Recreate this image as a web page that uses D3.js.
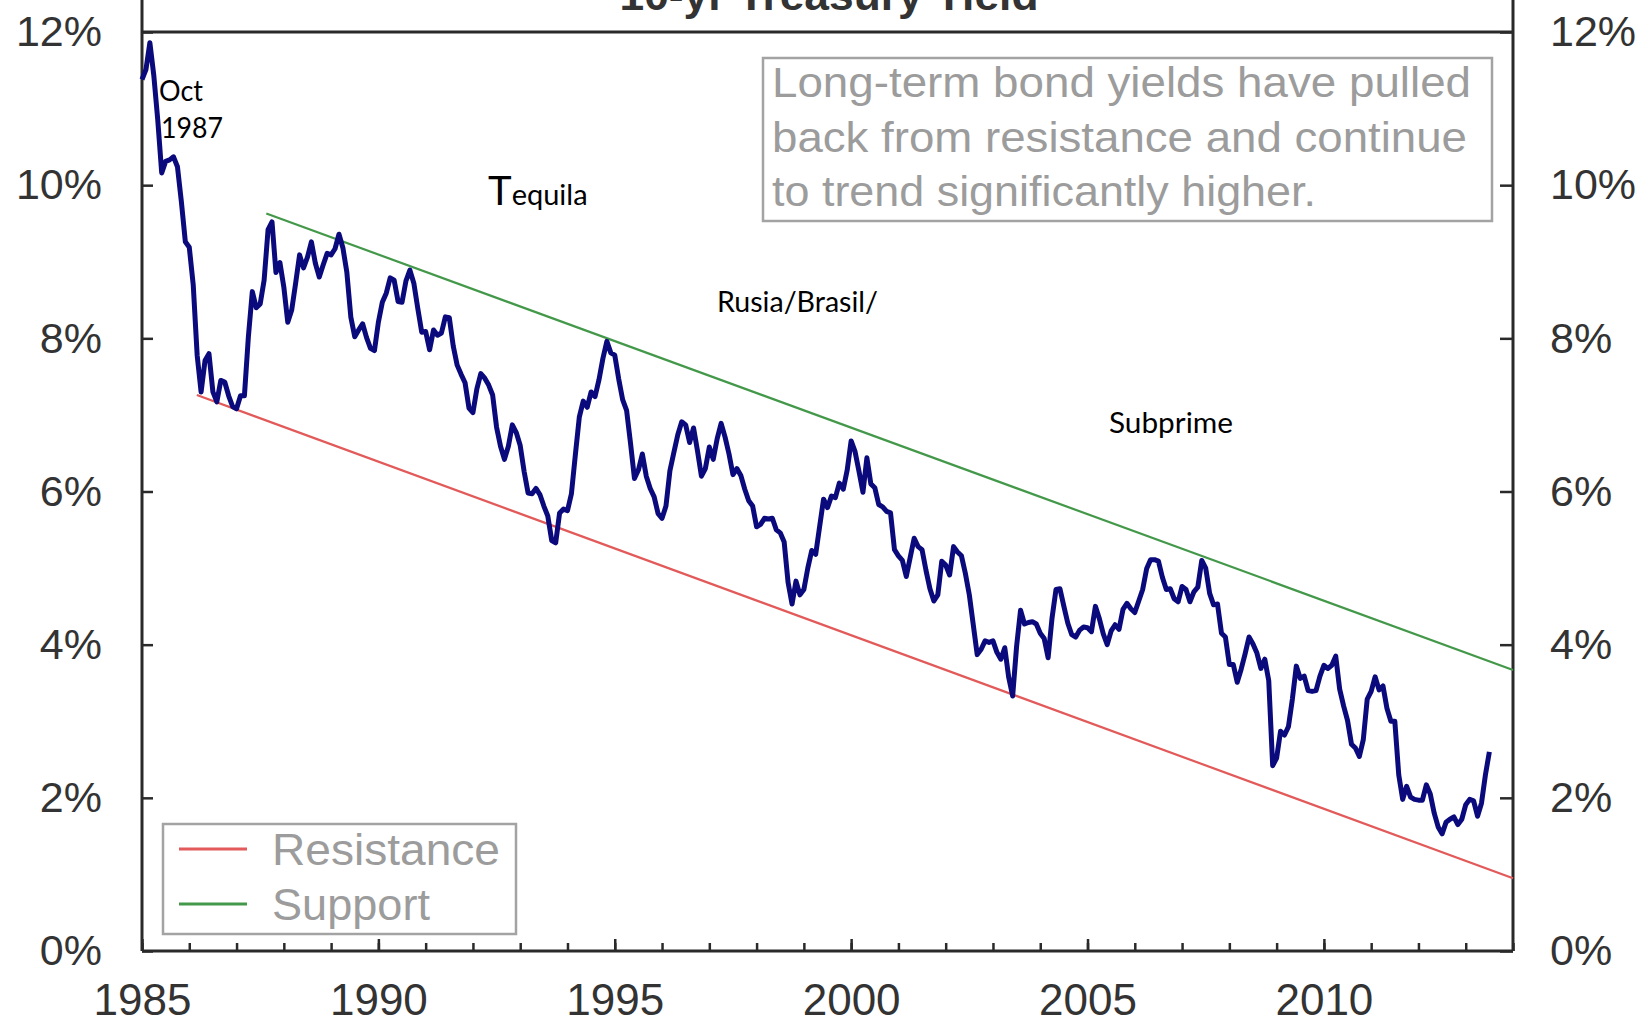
<!DOCTYPE html>
<html><head><meta charset="utf-8">
<script src="https://cdn.jsdelivr.net/npm/d3@7"></script>
<style>body{margin:0;background:#fff;} svg{display:block;}</style>
</head><body>
<svg id="chart" width="1651" height="1023"></svg>
<script>
// ---------------- DATA ----------------
const firstYear = 1985;               // series starts Jan 1985, monthly
const yields1985to1994 = [
  11.38,11.51,11.86,11.43,10.85,10.16,10.31,10.33,10.37,10.24,9.78,9.26,
  9.19,8.70,7.78,7.30,7.71,7.80,7.30,7.17,7.45,7.43,7.25,7.11,
  7.08,7.25,7.25,8.02,8.61,8.40,8.45,8.76,9.42,9.52,8.86,8.99,
  8.67,8.21,8.37,8.72,9.09,8.92,9.06,9.26,8.98,8.80,8.96,9.11,
  9.09,9.17,9.36,9.18,8.86,8.28,8.02,8.11,8.19,8.01,7.87,7.84,
  8.21,8.47,8.59,8.79,8.76,8.48,8.47,8.75,8.89,8.72,8.39,8.08,
  8.09,7.85,8.11,8.04,8.07,8.28,8.27,7.90,7.65,7.53,7.42,7.09,
  7.03,7.34,7.54,7.48,7.39,7.26,6.84,6.59,6.42,6.59,6.87,6.77,
  6.60,6.26,5.98,5.97,6.04,5.96,5.81,5.68,5.36,5.33,5.72,5.77,
  5.75,5.97,6.48,6.97,7.18,7.10,7.30,7.24,7.46,7.74,7.96,7.81
];
const yields1995to2004 = [
  7.78,7.47,7.20,7.06,6.63,6.17,6.28,6.49,6.20,6.04,5.93,5.71,
  5.65,5.81,6.27,6.51,6.74,6.91,6.87,6.64,6.83,6.53,6.20,6.30,
  6.58,6.42,6.69,6.89,6.71,6.49,6.22,6.30,6.21,6.03,5.88,5.81,
  5.54,5.57,5.65,5.64,5.65,5.50,5.46,5.34,4.81,4.53,4.83,4.65,
  4.72,5.00,5.23,5.18,5.54,5.90,5.79,5.94,5.92,6.11,6.03,6.28,
  6.66,6.52,6.26,5.99,6.44,6.10,6.05,5.83,5.80,5.74,5.72,5.24,
  5.16,5.10,4.89,5.14,5.39,5.28,5.24,4.97,4.73,4.57,4.65,5.09,
  5.04,4.91,5.28,5.21,5.16,4.93,4.65,4.26,3.87,3.94,4.05,4.03,
  4.05,3.90,3.81,3.96,3.57,3.33,3.98,4.45,4.27,4.29,4.30,4.27,
  4.15,4.08,3.83,4.35,4.72,4.73,4.50,4.28,4.13,4.10,4.19,4.23
];
const yields2005to2013 = [
  4.22,4.17,4.50,4.34,4.14,4.00,4.18,4.26,4.20,4.46,4.54,4.47,
  4.42,4.57,4.72,4.99,5.11,5.11,5.09,4.88,4.72,4.73,4.60,4.56,
  4.76,4.72,4.56,4.69,4.75,5.10,5.00,4.67,4.52,4.53,4.15,4.10,
  3.74,3.74,3.51,3.68,3.88,4.10,4.01,3.89,3.69,3.81,3.53,2.42,
  2.52,2.87,2.82,2.93,3.29,3.72,3.56,3.59,3.40,3.39,3.40,3.59,
  3.73,3.69,3.73,3.85,3.42,3.20,3.01,2.70,2.65,2.54,2.76,3.29,
  3.39,3.58,3.41,3.46,3.17,3.00,3.00,2.30,1.98,2.15,2.01,1.98,
  1.97,1.97,2.17,2.05,1.80,1.62,1.53,1.68,1.72,1.75,1.65,1.72,
  1.91,1.98,1.96,1.76,1.93,2.30,2.60
];
const resistanceLine = [{year:1986.16, value:7.26}, {year:2014, value:0.95}];
const supportLine    = [{year:1987.63, value:9.63}, {year:2014, value:3.67}];
const yTickValues = [0,2,4,6,8,10,12];
const xMinorTicks = d3.range(1985, 2015, 1);
const xLabelYears = [1985,1990,1995,2000,2005,2010];
const titleText = "10-yr Treasury Yield";
const noteLines = ["Long-term bond yields have pulled","back from resistance and continue","to trend significantly higher."];
const legendLabels = ["Resistance","Support"];

// ---------------- LAYOUT ----------------
const svg = d3.select("#chart");
const L = 142, R = 1513, T = 32, B = 951;
const x = d3.scaleLinear().domain([1985, 2014]).range([L, R]);
const y = d3.scaleLinear().domain([0, 12]).range([B, T]);
const axisFont = "'Liberation Sans', Arial, sans-serif";
const noteFont = "Lato, 'Open Sans', sans-serif";

const series = [...yields1985to1994, ...yields1995to2004, ...yields2005to2013]
  .map((v, i) => ({year: firstYear + i / 12, value: v}));

// frame
svg.append("line").attr("x1", L).attr("x2", R).attr("y1", T).attr("y2", T)
  .attr("stroke", "#2a2a2a").attr("stroke-width", 3);
svg.append("line").attr("x1", L).attr("x2", L).attr("y1", 0).attr("y2", B)
  .attr("stroke", "#2a2a2a").attr("stroke-width", 3);
svg.append("line").attr("x1", R).attr("x2", R).attr("y1", 0).attr("y2", B)
  .attr("stroke", "#2a2a2a").attr("stroke-width", 3);
svg.append("line").attr("x1", L).attr("x2", R).attr("y1", B).attr("y2", B)
  .attr("stroke", "#2a2a2a").attr("stroke-width", 3);

// title (partly cut at top, as in the reference)
svg.append("text").attr("x", 829).attr("y", 10).attr("text-anchor", "middle")
  .attr("font-family", axisFont).attr("font-weight", "bold").attr("font-size", 42)
  .attr("fill", "#333").attr("textLength", 419).attr("lengthAdjust", "spacingAndGlyphs")
  .text(titleText);

function styleAxis(g) {
  g.select(".domain").remove();
  g.selectAll(".tick line").attr("stroke", "#2a2a2a").attr("stroke-width", 2.5);
  g.selectAll(".tick text").attr("font-family", axisFont).attr("font-size", 43).attr("fill", "#333");
}
// left axis
svg.append("g").attr("transform", `translate(${L},0)`)
  .call(d3.axisLeft(y).tickValues(yTickValues).tickSizeInner(-11).tickSizeOuter(0)
    .tickPadding(40).tickFormat(d => d + "%"))
  .call(styleAxis);
// right axis
svg.append("g").attr("transform", `translate(${R},0)`)
  .call(d3.axisRight(y).tickValues(yTickValues).tickSizeInner(-13).tickSizeOuter(0)
    .tickPadding(37).tickFormat(d => d + "%"))
  .call(styleAxis);
// bottom minor ticks
svg.append("g").attr("transform", `translate(0,${B})`)
  .call(d3.axisBottom(x).tickValues(xMinorTicks).tickSizeInner(-8).tickSizeOuter(0).tickFormat(""))
  .call(styleAxis);
// bottom major ticks + labels
svg.append("g").attr("transform", `translate(0,${B})`)
  .call(d3.axisBottom(x).tickValues(xLabelYears).tickSizeInner(-12).tickSizeOuter(0)
    .tickPadding(33).tickFormat(d3.format("d")))
  .call(styleAxis)
  .selectAll(".tick text").attr("font-size", 44);

// trend lines
const lineGen = d3.line().x(d => x(d.year)).y(d => y(d.value));
svg.append("path").datum(resistanceLine).attr("d", lineGen)
  .attr("fill", "none").attr("stroke", "#e25a5a").attr("stroke-width", 2.2);
svg.append("path").datum(supportLine).attr("d", lineGen)
  .attr("fill", "none").attr("stroke", "#43984a").attr("stroke-width", 2.2);

// yield series
svg.append("path").datum(series).attr("d", lineGen)
  .attr("fill", "none").attr("stroke", "#0a0a7c").attr("stroke-width", 5)
  .attr("stroke-linejoin", "round");

// note box
svg.append("rect").attr("x", 763).attr("y", 58).attr("width", 729).attr("height", 163)
  .attr("fill", "#fff").attr("stroke", "#a3a3a3").attr("stroke-width", 2.5);
const noteWidths = [699, 695, 544];
noteLines.forEach((t, i) => {
  svg.append("text").attr("x", 772).attr("y", 97 + i * 54.5)
    .attr("font-family", axisFont).attr("font-size", 43).attr("fill", "#9c9c9c")
    .attr("textLength", noteWidths[i]).attr("lengthAdjust", "spacingAndGlyphs")
    .text(t);
});

// legend
svg.append("rect").attr("x", 163).attr("y", 824).attr("width", 353).attr("height", 110)
  .attr("fill", "#fff").attr("stroke", "#a3a3a3").attr("stroke-width", 2.5);
const legendColors = ["#e25a5a", "#43984a"];
const legendWidths = [228, 158];
legendLabels.forEach((t, i) => {
  const cy = 849 + i * 55;
  svg.append("line").attr("x1", 179).attr("x2", 247).attr("y1", cy).attr("y2", cy)
    .attr("stroke", legendColors[i]).attr("stroke-width", 3);
  svg.append("text").attr("x", 272).attr("y", cy + 16)
    .attr("font-family", axisFont).attr("font-size", 45).attr("fill", "#9c9c9c")
    .attr("textLength", legendWidths[i]).attr("lengthAdjust", "spacingAndGlyphs")
    .text(t);
});

// black annotations
function note(txt, px, py, size, w) {
  const t = svg.append("text").attr("x", px).attr("y", py)
    .attr("font-family", noteFont).attr("font-size", size).attr("fill", "#000").text(txt);
  if (w) t.attr("textLength", w).attr("lengthAdjust", "spacingAndGlyphs");
}
note("Oct", 159, 101, 28, 44);
note("1987", 161, 138, 28, 62);
const teq = svg.append("text").attr("x", 488).attr("y", 205)
  .attr("font-family", noteFont).attr("fill", "#000");
teq.append("tspan").attr("font-size", 40).text("T");
teq.append("tspan").attr("font-size", 29).text("equila");
note("Rusia/Brasil/", 717, 312, 29, 161);
note("Subprime", 1109, 433, 29, 124);
</script>
</body></html>
